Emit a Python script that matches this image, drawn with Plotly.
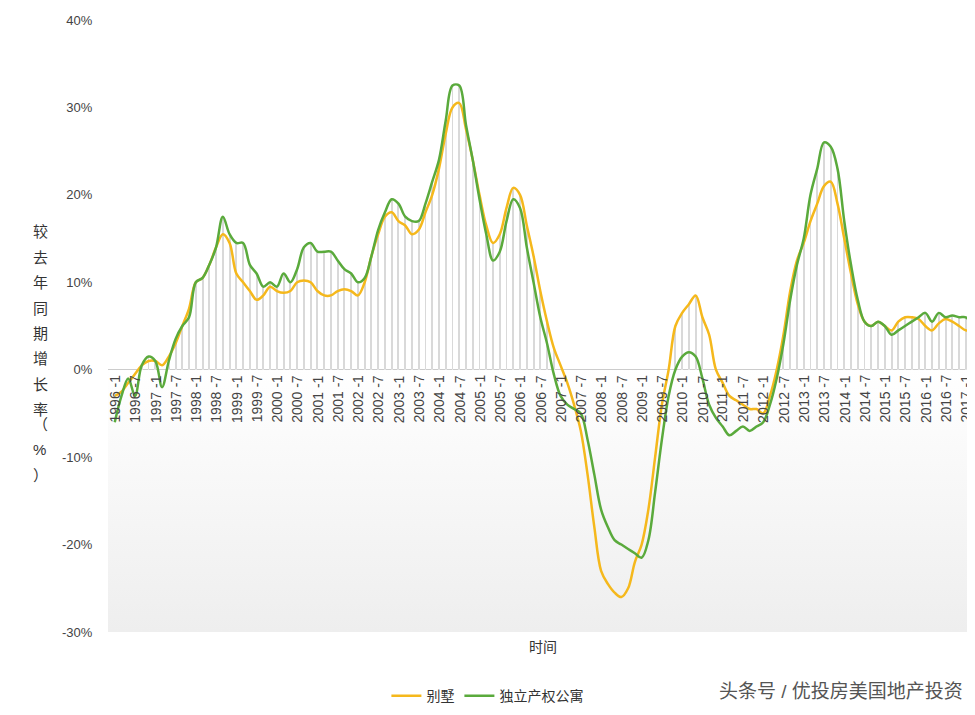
import plotly.graph_objects as go

# bimonthly samples, 1996-1 .. 2017-3
months = ['%d-%d' % (1996 + i // 6, 2 * (i % 6) + 1) for i in range(128)]

villa = [-3, -2.5, -1.5, -0.5, 0.5, 1, 1, 0.5, 1.5, 3, 5, 7,
         10, 10.5, 12, 14, 15.5, 14.5, 11, 10, 9, 8, 8.5, 9.5,
         9, 8.8, 9, 10, 10.2, 10, 9, 8.5, 8.5, 9, 9.2, 9,
         8.5, 10, 13, 15.5, 17.5, 18, 17, 16.5, 15.5, 16, 18, 20,
         23, 27, 30, 30.5, 27.5, 24, 20, 16.5, 14.5, 15.5, 18.5, 20.8,
         20, 16.5, 13, 9, 5.5, 2.5, 0.5, -1.5, -4, -7, -12, -18,
         -23, -24.5, -25.5, -26, -25, -22, -20, -16, -10, -4, 0, 5,
         6.5, 7.5, 8.5, 6, 4, 0, -1.5, -3, -3.5, -4, -4.5, -4.5,
         -5, -3, 0, 4, 9, 12.5, 14.5, 17, 19, 21, 21.5, 19,
         15, 11, 7.5, 5.5, 5, 5.5, 5, 4.5, 5.5, 6, 6, 5.8,
         5, 4.5, 5.3, 5.8, 5.5, 5, 4.5, 4.5]

condo = [-6, -3, -1, -3, 0.5, 1.5, 1, -2, 1, 3.5, 5, 6,
         10, 10.5, 12, 14, 17.5, 15.5, 14.5, 14.5, 12, 11, 9.5, 10,
         9.5, 11, 10, 11.5, 14, 14.5, 13.5, 13.5, 13.5, 12.5, 11.5, 11,
         10, 10.5, 13, 16, 18, 19.5, 19, 17.5, 17, 17, 19, 21.5,
         24, 28.5, 32.5, 32.5, 28, 24, 19.5, 15.5, 12.5, 13.5, 17, 19.5,
         18.5, 14, 10, 6, 3, -0.5, -3, -4, -4.5, -5, -8, -12,
         -16, -18, -19.5, -20, -20.5, -21, -21.5, -19.5, -14, -8, -3, 0,
         1.5, 2, 1.5, -1, -4, -5.5, -6.5, -7.5, -7, -6.5, -7, -6.5,
         -6, -4, -1, 3, 8, 12, 15, 20, 23, 26, 25.5, 23,
         17, 12, 8, 5.5, 5, 5.5, 5, 4, 4.5, 5, 5.5, 6,
         6.5, 5.5, 6.5, 6, 6.2, 6, 6, 5]

y_ticks = [-30, -20, -10, 0, 10, 20, 30, 40]
y_title = '较去年同期增长率（%）'

x = list(range(len(months)))
fill = [v if abs(v) > abs(c) else c for v, c in zip(villa, condo)]
fnt = 'Liberation Sans, Noto Sans CJK SC'

fig = go.Figure()
fig.add_trace(go.Scatter(x=[-1, 128, 128, -1], y=[0, 0, -30, -30], fill='toself',
                         mode='none', hoverinfo='skip', showlegend=False,
                         fillgradient=dict(type='vertical',
                                           colorscale=[[0, '#eeeeee'], [1, '#ffffff']])))
fig.add_trace(go.Bar(x=x, y=fill, width=0.14, marker=dict(color='#d9d9d9', line_width=0),
                     showlegend=False, hoverinfo='skip'))
fig.add_trace(go.Scatter(x=x, y=villa, name='别墅', mode='lines',
                         line=dict(color='#f5b81c', width=2.5, shape='spline')))
fig.add_trace(go.Scatter(x=x, y=condo, name='独立产权公寓', mode='lines',
                         line=dict(color='#5aaa3c', width=2.5, shape='spline')))

# rotated month labels hanging under the zero line
for i in range(0, 128, 3):
    yr, mo = months[i].split('-')
    fig.add_annotation(x=i, y=0, text='%s -%s' % (yr, mo), textangle=-90, showarrow=False,
                       yanchor='top', yshift=-3, font=dict(size=14, color='#444', family=fnt))

# vertical axis title, one character per line
for j, ch in enumerate(y_title):
    py = 222 + 25.5 * j
    fig.add_annotation(xref='paper', yref='paper', x=-0.088, y=1 - (py - 9) / 615,
                       showarrow=False, text=ch, font=dict(size=15, color='#333'))
fig.add_annotation(xref='paper', yref='paper', x=0.985, y=-0.118, showarrow=False,
                   xanchor='right', text='头条号 / 优投房美国地产投资',
                   font=dict(size=19, color='#555'))

fig.update_layout(
    width=975, height=715, plot_bgcolor='white', paper_bgcolor='white',
    margin=dict(l=100, r=5, t=9, b=91),
    font=dict(family=fnt, size=13, color='#444'),
    bargap=0,
    legend=dict(orientation='h', x=0.32, y=-0.105, xanchor='left', yanchor='middle',
                font=dict(size=14, color='#333')),
    xaxis=dict(range=[-1, 127.8], showticklabels=False, showgrid=False, zeroline=False,
               title=dict(text='时间', standoff=10, font=dict(size=14, color='#333'))),
    yaxis=dict(range=[-30, 40], tickvals=y_ticks, ticktext=['%d%%' % v for v in y_ticks],
               showgrid=False, ticks='outside', ticklen=12, tickcolor='white',
               tickfont=dict(size=13),
               zeroline=True, zerolinecolor='#bbb', zerolinewidth=1),
)
fig.write_html('out.html')
